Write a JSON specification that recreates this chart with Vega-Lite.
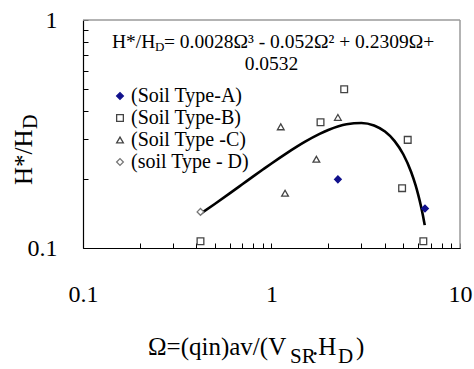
{
  "$schema": "https://vega.github.io/schema/vega-lite/v6.json",
  "width": 377,
  "height": 228,
  "autosize": {"type": "none"},
  "padding": {"left": 83, "top": 20, "right": 14, "bottom": 121},
  "background": "white",
  "data": {"values": [{}]},
  "config": {
    "view": {"stroke": null}
  },
  "layer": [
    {
      "mark": {"type": "rule", "color": "#9a9a9a", "strokeWidth": 1.5},
      "encoding": {
        "x": {"datum": 10, "type": "quantitative", "title": null, "scale": {"type": "log", "domain": [0.1, 10], "nice": false}}
      }
    },
    {
      "mark": {"type": "rule", "color": "#9a9a9a", "strokeWidth": 1.5},
      "encoding": {
        "y": {"datum": 1, "type": "quantitative", "title": null, "scale": {"type": "log", "domain": [0.1, 1], "nice": false}}
      }
    },
    {
      "data": {"values": [
        {"omega": 0.42, "h": 0.1412}, {"omega": 0.5, "h": 0.1560}, {"omega": 0.6, "h": 0.1736},
        {"omega": 0.7, "h": 0.1903}, {"omega": 0.8, "h": 0.2061}, {"omega": 0.9, "h": 0.2209},
        {"omega": 1.0, "h": 0.2349}, {"omega": 1.1, "h": 0.2480}, {"omega": 1.2, "h": 0.2602},
        {"omega": 1.35, "h": 0.2770}, {"omega": 1.5, "h": 0.2920}, {"omega": 1.8, "h": 0.3167},
        {"omega": 2.0, "h": 0.3294}, {"omega": 2.5, "h": 0.3492}, {"omega": 3.0, "h": 0.3535},
        {"omega": 3.5, "h": 0.3444}, {"omega": 4.0, "h": 0.3240}, {"omega": 4.5, "h": 0.2944},
        {"omega": 5.0, "h": 0.2577}, {"omega": 5.5, "h": 0.2160}, {"omega": 5.8, "h": 0.1895},
        {"omega": 6.0, "h": 0.1714}, {"omega": 6.2, "h": 0.1532}, {"omega": 6.3, "h": 0.1441},
        {"omega": 6.45, "h": 0.1305}, {"omega": 6.5, "h": 0.1260}
      ]},
      "mark": {"type": "line", "color": "black", "strokeWidth": 2.6, "interpolate": "monotone", "clip": true},
      "encoding": {
        "x": {
          "field": "omega", "type": "quantitative", "title": null,
          "scale": {"type": "log", "domain": [0.1, 10], "nice": false},
          "axis": {
            "title": null, "grid": false,
            "values": [0.1, 0.2, 0.3, 0.4, 0.5, 0.6, 0.7, 0.8, 0.9, 1, 2, 3, 4, 5, 6, 7, 8, 9, 10],
            "labelExpr": "datum.value < 0.15 ? '0.1' : (abs(datum.value - 1) < 0.01 ? '1' : (datum.value > 9.5 ? '10' : ''))",
            "domainColor": "black", "domainWidth": 1.2,
            "ticks": true, "tickColor": "black", "tickSize": -5, "tickWidth": 1,
            "labelFont": "Liberation Serif", "labelFontSize": 24, "labelColor": "black",
            "labelPadding": 39, "labelFlush": false, "labelOverlap": false, "labelBound": false
          }
        },
        "y": {
          "field": "h", "type": "quantitative", "title": null,
          "scale": {"type": "log", "domain": [0.1, 1], "nice": false},
          "axis": {
            "title": null, "grid": false,
            "values": [0.1, 0.2, 0.3, 0.4, 0.5, 0.6, 0.7, 0.8, 0.9, 1],
            "labelExpr": "datum.value < 0.15 ? '0.1' : (datum.value > 0.95 ? '1' : '')",
            "domainColor": "black", "domainWidth": 1.2,
            "ticks": true, "tickColor": "black", "tickSize": -5, "tickWidth": 1,
            "labelFont": "Liberation Serif", "labelFontSize": 24, "labelColor": "black",
            "labelPadding": 31, "labelFlush": false, "labelOverlap": false, "labelBound": false
          }
        }
      }
    },
    {
      "data": {"values": [
        {"omega": 2.25, "h": 0.200, "soil": "(Soil Type-A)"},
        {"omega": 6.52, "h": 0.149, "soil": "(Soil Type-A)"},
        {"omega": 0.42, "h": 0.107, "soil": "(Soil Type-B)"},
        {"omega": 1.82, "h": 0.356, "soil": "(Soil Type-B)"},
        {"omega": 2.43, "h": 0.497, "soil": "(Soil Type-B)"},
        {"omega": 5.28, "h": 0.298, "soil": "(Soil Type-B)"},
        {"omega": 4.93, "h": 0.183, "soil": "(Soil Type-B)"},
        {"omega": 6.39, "h": 0.107, "soil": "(Soil Type-B)"},
        {"omega": 1.12, "h": 0.340, "soil": "(Soil Type -C)"},
        {"omega": 2.25, "h": 0.374, "soil": "(Soil Type -C)"},
        {"omega": 1.73, "h": 0.245, "soil": "(Soil Type -C)"},
        {"omega": 1.18, "h": 0.174, "soil": "(Soil Type -C)"},
        {"omega": 0.42, "h": 0.144, "soil": "(soil Type - D)"}
      ]},
      "mark": {"type": "point", "size": 45, "strokeWidth": 1.3, "opacity": 1},
      "encoding": {
        "x": {"field": "omega", "type": "quantitative", "title": null, "scale": {"type": "log", "domain": [0.1, 10], "nice": false}},
        "y": {"field": "h", "type": "quantitative", "title": null, "scale": {"type": "log", "domain": [0.1, 1], "nice": false}},
        "shape": {
          "field": "soil", "type": "nominal",
          "scale": {"domain": ["(Soil Type-A)", "(Soil Type-B)", "(Soil Type -C)", "(soil Type - D)"], "range": ["diamond", "square", "triangle-up", "diamond"]},
          "legend": {
            "orient": "none", "legendX": 27, "legendY": 66, "title": null, "padding": 0,
            "labelFont": "Liberation Serif", "labelFontSize": 20, "labelColor": "black",
            "labelOffset": 1, "rowPadding": 2, "symbolSize": 45, "symbolStrokeWidth": 1.3
          }
        },
        "stroke": {
          "field": "soil", "type": "nominal",
          "scale": {"domain": ["(Soil Type-A)", "(Soil Type-B)", "(Soil Type -C)", "(soil Type - D)"], "range": ["#10108c", "#444444", "#444444", "#777777"]},
          "legend": {
            "orient": "none", "legendX": 27, "legendY": 66, "title": null, "padding": 0,
            "labelFont": "Liberation Serif", "labelFontSize": 20, "labelColor": "black",
            "labelOffset": 1, "rowPadding": 2, "symbolSize": 45, "symbolStrokeWidth": 1.3
          }
        },
        "fill": {
          "field": "soil", "type": "nominal",
          "scale": {"domain": ["(Soil Type-A)", "(Soil Type-B)", "(Soil Type -C)", "(soil Type - D)"], "range": ["#10108c", "#ffffff", "#ffffff", "#ffffff"]},
          "legend": {
            "orient": "none", "legendX": 27, "legendY": 66, "title": null, "padding": 0,
            "labelFont": "Liberation Serif", "labelFontSize": 20, "labelColor": "black",
            "labelOffset": 1, "rowPadding": 2, "symbolSize": 45, "symbolStrokeWidth": 1.3
          }
        }
      }
    },
    {
      "mark": {"type": "text", "text": "H*/H", "font": "Liberation Serif", "color": "black", "align": "left", "baseline": "alphabetic", "fontSize": 19.5},
      "encoding": {
        "x": {"datum": 0.1425, "type": "quantitative", "title": null, "scale": {"type": "log", "domain": [0.1, 10], "nice": false}},
        "y": {"datum": 0.754, "type": "quantitative", "title": null, "scale": {"type": "log", "domain": [0.1, 1], "nice": false}}
      }
    },
    {
      "mark": {"type": "text", "text": "D", "font": "Liberation Serif", "color": "black", "align": "left", "baseline": "alphabetic", "fontSize": 13, "dx": 43, "dy": 3},
      "encoding": {
        "x": {"datum": 0.1425, "type": "quantitative", "title": null, "scale": {"type": "log", "domain": [0.1, 10], "nice": false}},
        "y": {"datum": 0.754, "type": "quantitative", "title": null, "scale": {"type": "log", "domain": [0.1, 1], "nice": false}}
      }
    },
    {
      "mark": {"type": "text", "text": "= 0.0028Ω³ - 0.052Ω² + 0.2309Ω+", "font": "Liberation Serif", "color": "black", "align": "left", "baseline": "alphabetic", "fontSize": 19.5, "dx": 52},
      "encoding": {
        "x": {"datum": 0.1425, "type": "quantitative", "title": null, "scale": {"type": "log", "domain": [0.1, 10], "nice": false}},
        "y": {"datum": 0.754, "type": "quantitative", "title": null, "scale": {"type": "log", "domain": [0.1, 1], "nice": false}}
      }
    },
    {
      "mark": {"type": "text", "text": "0.0532", "font": "Liberation Serif", "color": "black", "align": "center", "baseline": "alphabetic", "fontSize": 19.5},
      "encoding": {
        "x": {"datum": 1, "type": "quantitative", "title": null, "scale": {"type": "log", "domain": [0.1, 10], "nice": false}},
        "y": {"datum": 0.6035, "type": "quantitative", "title": null, "scale": {"type": "log", "domain": [0.1, 1], "nice": false}}
      }
    },
    {
      "mark": {"type": "text", "text": "Ω=(qin)av/(V", "font": "Liberation Serif", "color": "black", "align": "left", "baseline": "alphabetic", "fontSize": 25},
      "encoding": {
        "x": {"datum": 0.2212, "type": "quantitative", "title": null, "scale": {"type": "log", "domain": [0.1, 10], "nice": false}},
        "y": {"datum": 0.0339, "type": "quantitative", "title": null, "scale": {"type": "log", "domain": [0.1, 1], "nice": false}}
      }
    },
    {
      "mark": {"type": "text", "text": "SR", "font": "Liberation Serif", "color": "black", "align": "left", "baseline": "alphabetic", "fontSize": 21, "dx": 142, "dy": 8},
      "encoding": {
        "x": {"datum": 0.2212, "type": "quantitative", "title": null, "scale": {"type": "log", "domain": [0.1, 10], "nice": false}},
        "y": {"datum": 0.0339, "type": "quantitative", "title": null, "scale": {"type": "log", "domain": [0.1, 1], "nice": false}}
      }
    },
    {
      "mark": {"type": "text", "text": ".H", "font": "Liberation Serif", "color": "black", "align": "left", "baseline": "alphabetic", "fontSize": 25, "dx": 164},
      "encoding": {
        "x": {"datum": 0.2212, "type": "quantitative", "title": null, "scale": {"type": "log", "domain": [0.1, 10], "nice": false}},
        "y": {"datum": 0.0339, "type": "quantitative", "title": null, "scale": {"type": "log", "domain": [0.1, 1], "nice": false}}
      }
    },
    {
      "mark": {"type": "text", "text": "D", "font": "Liberation Serif", "color": "black", "align": "left", "baseline": "alphabetic", "fontSize": 21, "dx": 190, "dy": 8},
      "encoding": {
        "x": {"datum": 0.2212, "type": "quantitative", "title": null, "scale": {"type": "log", "domain": [0.1, 10], "nice": false}},
        "y": {"datum": 0.0339, "type": "quantitative", "title": null, "scale": {"type": "log", "domain": [0.1, 1], "nice": false}}
      }
    },
    {
      "mark": {"type": "text", "text": ")", "font": "Liberation Serif", "color": "black", "align": "left", "baseline": "alphabetic", "fontSize": 25, "dx": 208},
      "encoding": {
        "x": {"datum": 0.2212, "type": "quantitative", "title": null, "scale": {"type": "log", "domain": [0.1, 10], "nice": false}},
        "y": {"datum": 0.0339, "type": "quantitative", "title": null, "scale": {"type": "log", "domain": [0.1, 1], "nice": false}}
      }
    },
    {
      "mark": {"type": "text", "text": "H*/H", "font": "Liberation Serif", "color": "black", "align": "left", "baseline": "alphabetic", "fontSize": 25, "angle": 270},
      "encoding": {
        "x": {"datum": 0.0536, "type": "quantitative", "title": null, "scale": {"type": "log", "domain": [0.1, 10], "nice": false}},
        "y": {"datum": 0.189, "type": "quantitative", "title": null, "scale": {"type": "log", "domain": [0.1, 1], "nice": false}}
      }
    },
    {
      "mark": {"type": "text", "text": "D", "font": "Liberation Serif", "color": "black", "align": "left", "baseline": "alphabetic", "fontSize": 20, "angle": 270, "dx": 56, "dy": 5},
      "encoding": {
        "x": {"datum": 0.0536, "type": "quantitative", "title": null, "scale": {"type": "log", "domain": [0.1, 10], "nice": false}},
        "y": {"datum": 0.189, "type": "quantitative", "title": null, "scale": {"type": "log", "domain": [0.1, 1], "nice": false}}
      }
    }
  ]
}
